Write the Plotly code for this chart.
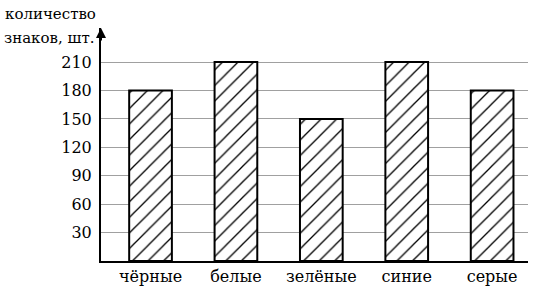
import plotly.graph_objects as go

categories = ["чёрные", "белые", "зелёные", "синие", "серые"]
values = [180, 210, 150, 210, 180]
tick_vals = [30, 60, 90, 120, 150, 180, 210]
y_title_lines = ["количество", "знаков, шт."]

FONT = "DejaVu Serif"

fig = go.Figure()
fig.add_trace(go.Bar(
    x=list(range(len(categories))),
    y=values,
    width=0.5,
    marker=dict(
        color="white",
        line=dict(color="black", width=2),
        pattern=dict(shape="/", size=11, solidity=0.12, fgcolor="black", bgcolor="white", fillmode="replace"),
    ),
))

fig.update_layout(
    width=546, height=300,
    margin=dict(l=101, r=18, t=28, b=39),
    paper_bgcolor="white", plot_bgcolor="white",
    showlegend=False,
    font=dict(family=FONT, size=16, color="black"),
    xaxis=dict(
        range=[-0.58, 4.42],
        tickmode="array", tickvals=list(range(len(categories))), ticktext=categories,
        showgrid=False, zeroline=False,
        showline=True, linecolor="black", linewidth=2,
        ticks="", tickfont=dict(family=FONT, size=16, color="black"),
    ),
    yaxis=dict(
        range=[0, 246],
        tickmode="array", tickvals=tick_vals, ticktext=[str(v) for v in tick_vals],
        showgrid=True, gridcolor="#a0a0a0", gridwidth=1,
        zeroline=False,
        showline=True, linecolor="black", linewidth=2,
        ticks="", ticklabelstandoff=4,
        tickfont=dict(family=FONT, size=16, color="black"),
    ),
)

fig.add_annotation(
    x=0, y=1, xref="paper", yref="paper",
    ax=0, ay=14, axref="pixel", ayref="pixel",
    text="", showarrow=True, arrowhead=2, arrowsize=1, arrowwidth=2, arrowcolor="black",
)

fig.add_annotation(
    xref="paper", yref="paper", x=(50 - 101) / 427, y=1 + (28 - 14) / 233,
    xanchor="center", yanchor="middle",
    text=y_title_lines[0], showarrow=False,
    font=dict(family=FONT, size=15, color="black"),
)
fig.add_annotation(
    xref="paper", yref="paper", x=(49.5 - 101) / 427, y=1 + (28 - 38) / 233,
    xanchor="center", yanchor="middle",
    text=y_title_lines[1], showarrow=False,
    font=dict(family=FONT, size=15, color="black"),
)

fig.write_html("out.html")
